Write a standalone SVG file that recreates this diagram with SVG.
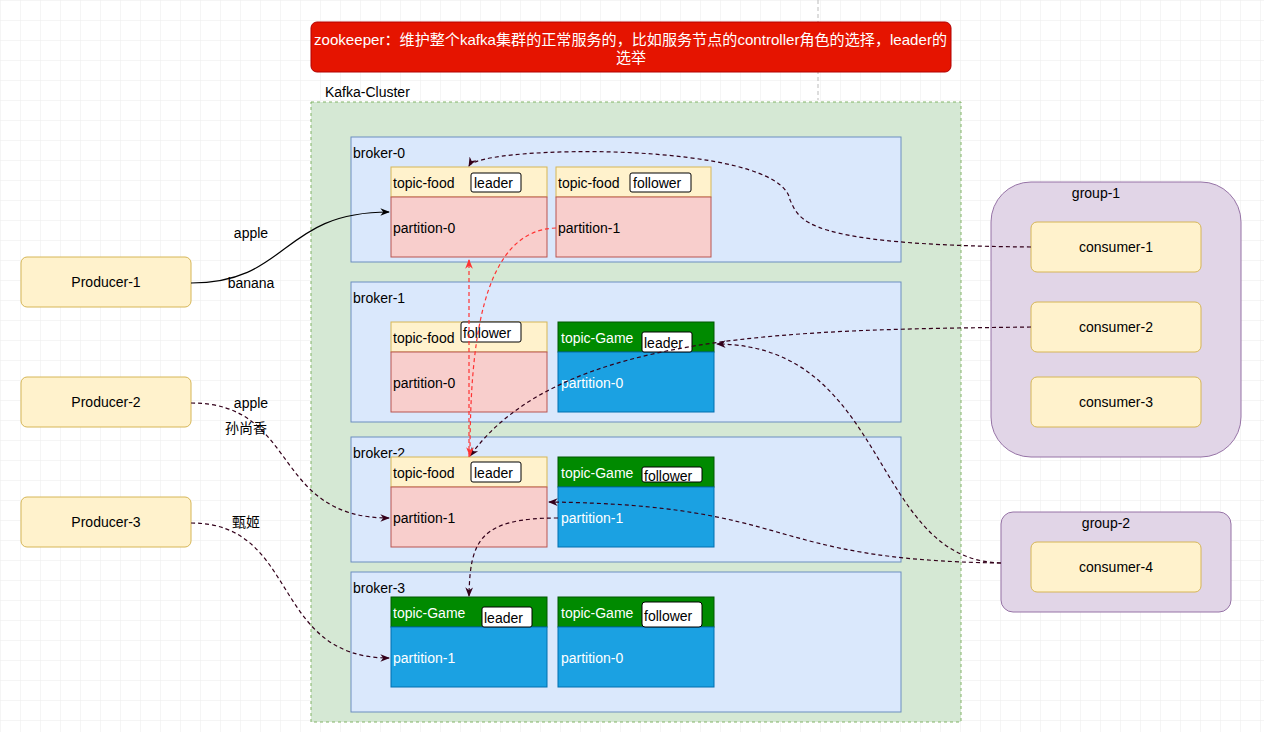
<svg xmlns="http://www.w3.org/2000/svg" width="1264" height="732" viewBox="0 0 1264 732">
<defs>
<pattern id="grid" width="20" height="20" patternUnits="userSpaceOnUse"><path d="M20 0H0V20" fill="none" stroke="#ececec" stroke-width="1"/></pattern>
<marker id="ad" viewBox="0 0 10 10" refX="9" refY="5" markerWidth="8" markerHeight="8" orient="auto"><path d="M0 1L10 5L0 9L3 5Z" fill="#33001a"/></marker>
<marker id="ak" viewBox="0 0 10 10" refX="9" refY="5" markerWidth="8" markerHeight="8" orient="auto"><path d="M0 1L10 5L0 9L3 5Z" fill="#000"/></marker>
<marker id="ar" viewBox="0 0 10 10" refX="9" refY="5" markerWidth="8" markerHeight="8" orient="auto"><path d="M0 1L10 5L0 9L3 5Z" fill="#ff3333"/></marker>
</defs>
<style>
text{font-family:"Liberation Sans","Noto Sans CJK SC",sans-serif;font-size:14px;fill:#000}
.w{fill:#fff}
.t{font-size:15px}
.prod{fill:#fff2cc;stroke:#d6b656}
.broker{fill:#dae8fc;stroke:#6c8ebf}
.hdr{fill:#fff2cc;stroke:#d6b656}
.pf{fill:#f8cecc;stroke:#b85450}
.gh{fill:#008a00;stroke:#005700}
.gp{fill:#1ba1e2;stroke:#006eaf}
.tag{fill:#fff;stroke:#000}
.grp{fill:#e1d5e7;stroke:#9673a6}
.d{fill:none;stroke:#33001a;stroke-dasharray:4 3;stroke-width:1.2;marker-end:url(#ad)}
.r{fill:none;stroke:#ff3333;stroke-dasharray:4 3;stroke-width:1.2;marker-end:url(#ar)}
.c{text-anchor:middle}
</style>
<rect width="1264" height="732" fill="#fff"/>
<rect width="1264" height="732" fill="url(#grid)"/>
<line x1="818" y1="0" x2="818" y2="100" stroke="#bbb" stroke-dasharray="4 3"/>
<g id="zookeeper"><rect x="311" y="22" width="640" height="50" rx="6" fill="#e51400" stroke="#b20000"/>
<text class="w t" x="314" y="45" textLength="633" lengthAdjust="spacingAndGlyphs">zookeeper：维护整个kafka集群的正常服务的，比如服务节点的controller角色的选择，leader的</text>
<text class="w c t" x="631" y="63">选举</text></g>
<g id="cluster"><text x="325" y="97">Kafka-Cluster</text><rect x="311" y="102" width="650" height="620" fill="#d5e8d4" stroke="#82b366" stroke-dasharray="3 3"/></g>
<g id="broker-0"><rect class="broker" x="351" y="137" width="550" height="125"/><text x="353" y="158">broker-0</text>
<rect class="hdr" x="391" y="167" width="156" height="30"/><rect class="pf" x="391" y="197" width="156" height="60"/><text x="393" y="188">topic-food</text><rect class="tag" x="471" y="173" width="50" height="19" rx="2"/><text x="474" y="188">leader</text><text x="393" y="233">partition-0</text>
<rect class="hdr" x="556" y="167" width="155" height="30"/><rect class="pf" x="556" y="197" width="155" height="60"/><text x="558" y="188">topic-food</text><rect class="tag" x="630" y="173" width="61" height="19" rx="2"/><text x="633" y="188">follower</text><text x="558" y="233">partition-1</text></g>
<g id="broker-1"><rect class="broker" x="351" y="282" width="550" height="140"/><text x="353" y="303">broker-1</text>
<rect class="hdr" x="391" y="322" width="156" height="30"/><rect class="pf" x="391" y="352" width="156" height="60"/><text x="393" y="343">topic-food</text><rect class="tag" x="461" y="322" width="60" height="20" rx="2"/><text x="463" y="338">follower</text><text x="393" y="388">partition-0</text>
<rect class="gh" x="558" y="322" width="156" height="30"/><rect class="gp" x="558" y="352" width="156" height="60"/><text class="w" x="561" y="343">topic-Game</text><rect class="tag" x="642" y="332" width="50" height="20" rx="2"/><text x="644" y="348">leader</text><text class="w" x="561" y="388">partition-0</text></g>
<g id="broker-2"><rect class="broker" x="351" y="437" width="550" height="125"/><text x="353" y="458">broker-2</text>
<rect class="hdr" x="391" y="457" width="156" height="30"/><rect class="pf" x="391" y="487" width="156" height="60"/><text x="393" y="478">topic-food</text><rect class="tag" x="471" y="462" width="50" height="20" rx="2"/><text x="474" y="478">leader</text><text x="393" y="523">partition-1</text>
<rect class="gh" x="558" y="457" width="156" height="30"/><rect class="gp" x="558" y="487" width="156" height="60"/><text class="w" x="561" y="478">topic-Game</text><rect class="tag" x="642" y="467" width="60" height="15" rx="2"/><text x="644" y="481">follower</text><text class="w" x="561" y="523">partition-1</text></g>
<g id="broker-3"><rect class="broker" x="351" y="572" width="550" height="140"/><text x="353" y="593">broker-3</text>
<rect class="gh" x="391" y="597" width="156" height="30"/><rect class="gp" x="391" y="627" width="156" height="60"/><text class="w" x="393" y="618">topic-Game</text><rect class="tag" x="482" y="607" width="50" height="20" rx="2"/><text x="484" y="623">leader</text><text class="w" x="393" y="663">partition-1</text>
<rect class="gh" x="558" y="597" width="156" height="30"/><rect class="gp" x="558" y="627" width="156" height="60"/><text class="w" x="561" y="618">topic-Game</text><rect class="tag" x="642" y="602" width="60" height="25" rx="3"/><text x="644" y="621">follower</text><text class="w" x="561" y="663">partition-0</text></g>
<g id="producer-1"><rect class="prod" x="21" y="257" width="170" height="50" rx="6"/><text class="c" x="106" y="287">Producer-1</text></g>
<g id="producer-2"><rect class="prod" x="21" y="377" width="170" height="50" rx="6"/><text class="c" x="106" y="407">Producer-2</text></g>
<g id="producer-3"><rect class="prod" x="21" y="497" width="170" height="50" rx="6"/><text class="c" x="106" y="527">Producer-3</text></g>
<g id="group-1"><rect class="grp" x="991" y="182" width="250" height="275" rx="40"/><text class="c" x="1096" y="198">group-1</text>
<rect class="prod" x="1031" y="222" width="170" height="50" rx="6"/><text class="c" x="1116" y="252">consumer-1</text>
<rect class="prod" x="1031" y="302" width="170" height="50" rx="6"/><text class="c" x="1116" y="332">consumer-2</text>
<rect class="prod" x="1031" y="377" width="170" height="50" rx="6"/><text class="c" x="1116" y="407">consumer-3</text></g>
<g id="group-2"><rect class="grp" x="1001" y="512" width="230" height="100" rx="12"/><text class="c" x="1106" y="528">group-2</text>
<rect class="prod" x="1031" y="542" width="170" height="50" rx="6"/><text class="c" x="1116" y="572">consumer-4</text></g>
<g id="connectors">
<path d="M191 283C290 283 280 212 389 212" fill="none" stroke="#000" stroke-width="1.2" marker-end="url(#ak)"/>
<path class="d" d="M191 403C300 403 270 518 389 518"/>
<path class="d" d="M191 523C300 523 270 658 389 658"/>
<path class="d" d="M1031 247C800 245 800 220 790 200C780 140 480 145 469 166"/>
<path class="d" d="M1031 327C800 330 560 330 470 456"/>
<path class="d" d="M1001 563C870 560 890 345 717 344"/>
<path class="d" d="M1001 563C760 560 800 505 549 502"/>
<path class="d" d="M558 518C480 518 470 540 469 596"/>
<path class="r" d="M469 457L469 260"/>
<path class="r" d="M556 228C480 230 470 350 470 456"/>
</g>
<g id="labels">
<text class="c" x="251" y="238">apple</text>
<text class="c" x="251" y="288">banana</text>
<text class="c" x="251" y="408">apple</text>
<text class="c" x="246" y="433">孙尚香</text>
<text class="c" x="246" y="527">甄姬</text>
</g>
</svg>
